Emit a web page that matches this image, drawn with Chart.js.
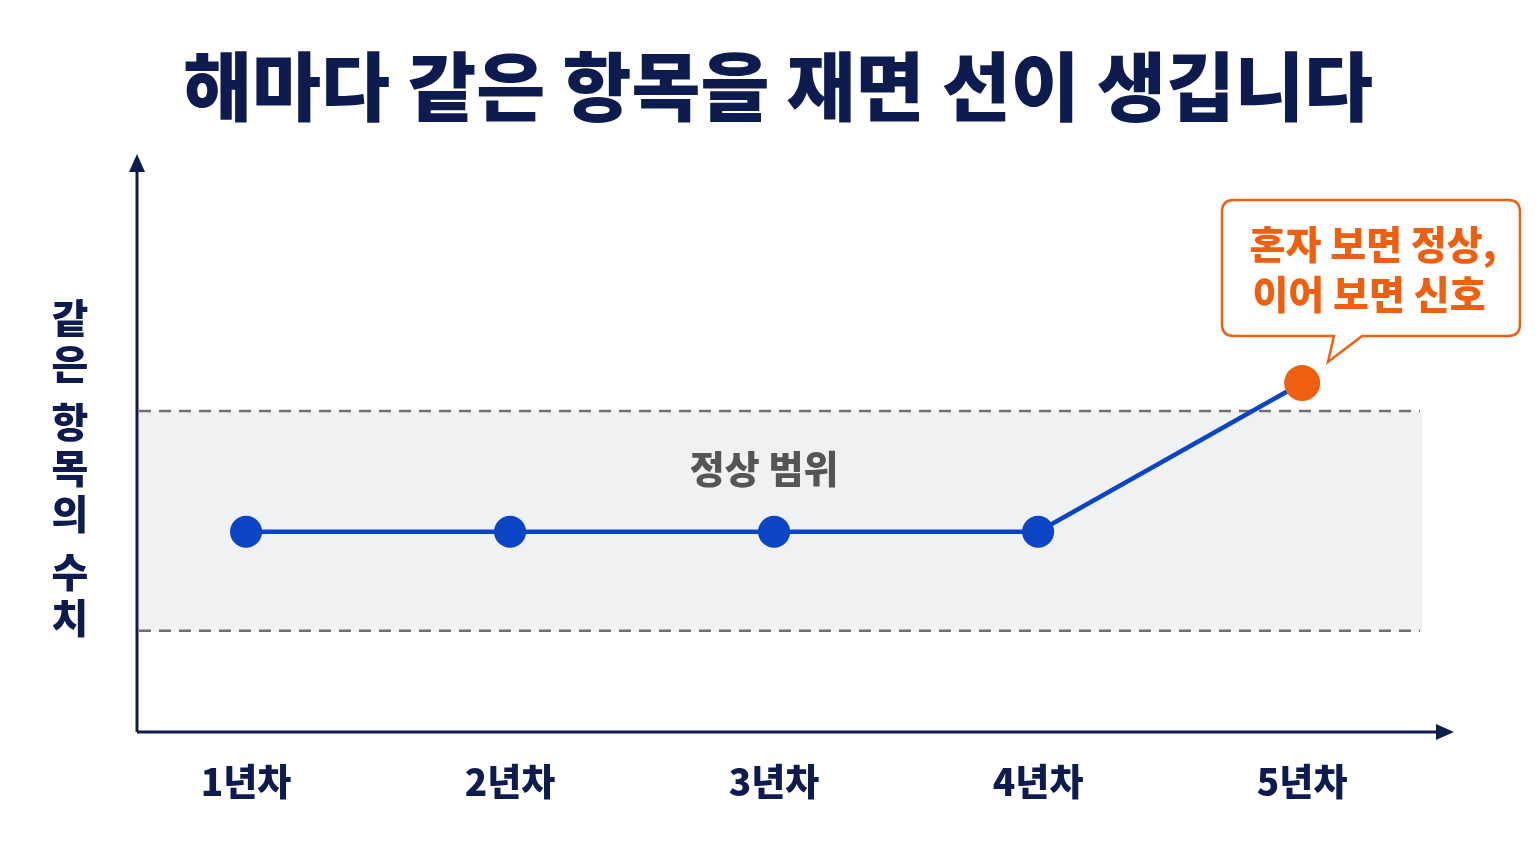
<!DOCTYPE html>
<html><head><meta charset="utf-8">
<script src="https://cdn.jsdelivr.net/npm/chart.js@4"></script>
<style>
html,body{margin:0;padding:0;background:#fff;}
#wrap{width:1536px;height:864px;position:relative;}
</style></head>
<body><div id="wrap"><canvas id="c"></canvas></div>
<script>
const title = '해마다 같은 항목을 재면 선이 생깁니다';
const categories = ['1년차', '2년차', '3년차', '4년차', '5년차'];
const values = [35, 35, 35, 35, 61];
const normalRange = [17.7, 56.1];
const bandLabel = '정상 범위';
const yTitle = '같은 항목의 수치';
const callout = ['혼자 보면 정상,', '이어 보면 신호'];

const NAVY = '#0d1b4f', BLUE = '#0b44c4', ORANGE = '#ee6010';
const FONT = '"Noto Sans CJK KR", "Noto Sans", sans-serif';

const decor = {
  id: 'decor',
  beforeDatasetsDraw(chart) {
    const {ctx, chartArea: a, scales: {x, y}} = chart;
    const yt = y.getPixelForValue(normalRange[1]), yb = y.getPixelForValue(normalRange[0]);
    ctx.save();
    ctx.fillStyle = '#f0f1f3';
    ctx.fillRect(a.left + 2, yt, 1420 - a.left, yb - yt);
    ctx.strokeStyle = '#707070'; ctx.lineWidth = 2.5; ctx.setLineDash([12, 8]);
    [yt, yb].forEach(p => { ctx.beginPath(); ctx.moveTo(a.left + 2, p); ctx.lineTo(1420, p); ctx.stroke(); });
    ctx.setLineDash([]);
    ctx.fillStyle = '#555'; ctx.font = '900 38px ' + FONT;
    ctx.textAlign = 'center'; ctx.textBaseline = 'middle';
    ctx.fillText(bandLabel, x.getPixelForValue(3) - 10, yt + 57);
    // axes
    ctx.strokeStyle = NAVY; ctx.fillStyle = NAVY; ctx.lineWidth = 3;
    ctx.beginPath(); ctx.moveTo(a.left, a.bottom); ctx.lineTo(a.left, a.top + 10);
    ctx.moveTo(a.left, a.bottom); ctx.lineTo(a.right - 10, a.bottom); ctx.stroke();
    ctx.beginPath(); ctx.moveTo(a.left, a.top - 6); ctx.lineTo(a.left - 8, a.top + 12); ctx.lineTo(a.left + 8, a.top + 12); ctx.fill();
    ctx.beginPath(); ctx.moveTo(a.right + 4, a.bottom); ctx.lineTo(a.right - 14, a.bottom - 8); ctx.lineTo(a.right - 14, a.bottom + 8); ctx.fill();
    // x labels
    ctx.font = '900 37px ' + FONT;
    categories.forEach((c, i) => ctx.fillText(c, x.getPixelForValue(i + 1), 782));
    // y title
    ctx.font = '900 40px ' + FONT;
    let yy = 318;
    for (const ch of yTitle) {
      if (ch === ' ') { yy += 12; continue; }
      ctx.fillText(ch, 70, yy); yy += 46;
    }
    // title
    ctx.font = '900 75px ' + FONT;
    ctx.fillText(title, 778, 86);
    ctx.restore();
  },
  afterDatasetsDraw(chart) {
    const {ctx} = chart;
    ctx.save();
    const L = 1222, T = 200, R = 1520, B = 336, r = 12;
    ctx.beginPath();
    ctx.moveTo(L + r, T); ctx.lineTo(R - r, T); ctx.quadraticCurveTo(R, T, R, T + r);
    ctx.lineTo(R, B - r); ctx.quadraticCurveTo(R, B, R - r, B);
    ctx.lineTo(1362, B); ctx.lineTo(1328, 362); ctx.lineTo(1334, B);
    ctx.lineTo(L + r, B); ctx.quadraticCurveTo(L, B, L, B - r);
    ctx.lineTo(L, T + r); ctx.quadraticCurveTo(L, T, L + r, T); ctx.closePath();
    ctx.fillStyle = '#fff'; ctx.fill();
    ctx.strokeStyle = ORANGE; ctx.lineWidth = 2.5; ctx.stroke();
    ctx.fillStyle = ORANGE; ctx.font = '900 39px ' + FONT;
    ctx.textAlign = 'center'; ctx.textBaseline = 'middle';
    ctx.fillText(callout[0], 1373, 244);
    ctx.fillText(callout[1], 1369, 294);
    ctx.restore();
  }
};

new Chart(document.getElementById('c'), {
  type: 'line',
  data: {
    datasets: [{
      data: values.map((v, i) => ({x: i + 1, y: v})),
      borderColor: BLUE, borderWidth: 4.5,
      pointRadius: values.map((v, i) => i === values.length - 1 ? 18 : 16),
      pointBackgroundColor: values.map((v, i) => i === values.length - 1 ? ORANGE : BLUE),
      pointBorderWidth: 0, tension: 0
    }]
  },
  options: {
    responsive: true, maintainAspectRatio: false, animation: false,
    layout: {padding: {left: 137, right: 86, top: 160, bottom: 132}},
    plugins: {legend: {display: false}, tooltip: {enabled: false}},
    scales: {
      x: {type: 'linear', min: 0.587, max: 5.56, display: false},
      y: {min: 0, max: 100, display: false}
    }
  },
  plugins: [decor]
});
</script></body></html>
